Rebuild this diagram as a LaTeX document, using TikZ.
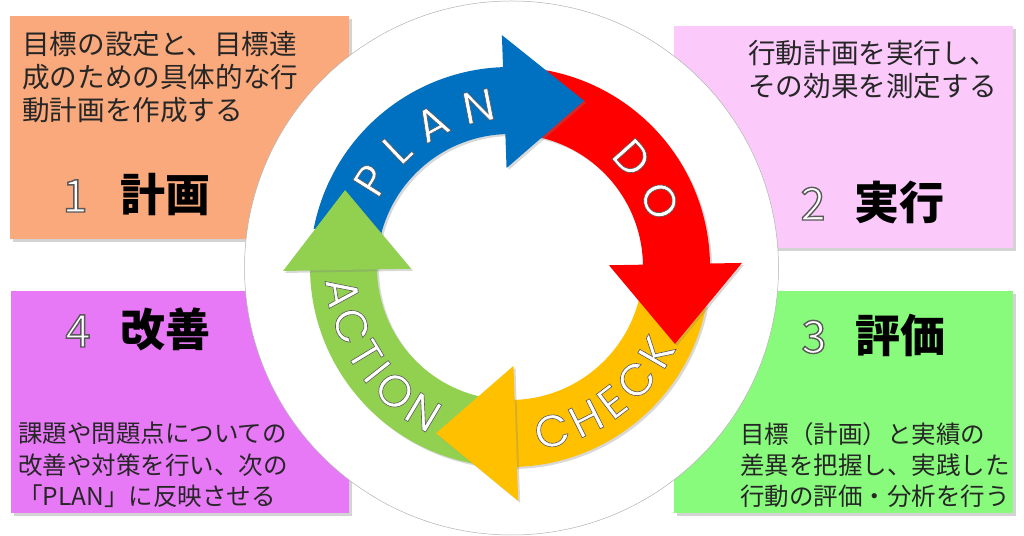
\documentclass[tikz,border=0pt]{standalone}
\usepackage{fontspec}
\newfontfamily\jp{Noto Sans CJK JP}
\newfontfamily\ringfont{Poppins}
\usetikzlibrary{shadows,decorations.text}

\definecolor{planblue}{HTML}{0070C0}
\definecolor{dored}{HTML}{FF0000}
\definecolor{checkyellow}{HTML}{FFC000}
\definecolor{actgreen}{HTML}{92D050}
\definecolor{boxorange}{HTML}{F9A97B}
\definecolor{boxpink}{HTML}{FBCAFB}
\definecolor{boxgreen}{HTML}{88FB7C}
\definecolor{boxviolet}{HTML}{E779F7}

% contorno grigio delle lettere bianche
\newcommand{\contorno}[1]{\special{pdf:literal direct 2 Tr #1 w 0.35 G}}

\begin{document}
\begin{tikzpicture}[x=1pt,y=1pt,
    boxshadow/.style={drop shadow={opacity=0.35,shadow xshift=3pt,shadow yshift=-3pt}},
    arrshadow/.style={drop shadow={opacity=0.3,shadow xshift=2pt,shadow yshift=-2pt}},
    bodytext/.style={anchor=north west,inner sep=0pt,align=left,text=black!85},
    numtext/.style={anchor=base,inner sep=0pt,text=white,font=\jp\fontsize{45}{45}\selectfont},
    headtext/.style={anchor=base,inner sep=0pt,font=\jp\bfseries\fontsize{45}{45}\selectfont}]
    \useasboundingbox (0,0) rectangle (1024,535);

    % Riquadri colorati
    \fill[boxorange,boxshadow] (10,296) rectangle (349,519);
    \fill[boxpink,boxshadow] (674,287) rectangle (1013,509);
    \fill[boxgreen,boxshadow] (674,22) rectangle (1013,244);
    \fill[boxviolet,boxshadow] (11,22) rectangle (349,244);

    % Cerchio bianco
    \filldraw[fill=white,draw=gray!60,line width=0.5pt] (511.5,267) circle (267);

    % Frecce del ciclo: prima i corpi, poi le punte
    \begin{scope}[shift={(510,268)}]
        \foreach \s/\b/\c in {169/92/planblue, 80/1/dored, -11/-88/checkyellow, 260/181/actgreen}{
            \pgfmathsetmacro\e{\b-1}
            \fill[\c,arrshadow] (\s:133) arc[start angle=\s,end angle=\e,radius=133]
                -- (\e:200) arc[start angle=\e,end angle=\s,radius=200] -- cycle;
        }
        \foreach \b/\c/\o in {92/planblue/232, 1/dored/232, -88/checkyellow/234, 181/actgreen/227}{
            \pgfmathsetmacro\t{\b-26}
            \fill[\c,arrshadow] (\b:99) -- (\b:\o) -- (\t:182) -- cycle;
        }

        % Scritte sulle frecce
        \foreach \w/\a/\z/\r in {PLAN/153/95/148, DO/48/17/148, CHECK/-81/-26/185, ACTION/184/244/185}{
            \path[decorate,decoration={text along path,text color=white,text align=fit to path,
                text={|\ringfont\fontsize{45}{45}\selectfont\contorno{0.6}|\w}}]
                (\a:\r) arc[start angle=\a,end angle=\z,radius=\r];
        }
    \end{scope}

    % Testi dei riquadri
    \node[bodytext,font=\jp\fontsize{27.6}{33.3}\selectfont] (t1) at (22,504)
        {目標の設定と、目標達\\成のための具体的な行\\動計画を作成する};
    \node[bodytext,font=\jp\fontsize{27.6}{33.3}\selectfont] (t2) at (748,495)
        {行動計画を実行し、\\その効果を測定する};
    \node[bodytext,font=\jp\fontsize{24.5}{31.3}\selectfont] (t3) at (740,113)
        {目標（計画）と実績の\\差異を把握し、実践した\\行動の評価・分析を行う};
    \node[bodytext,font=\jp\fontsize{24.5}{31.3}\selectfont] (t4) at (18,113)
        {課題や問題点についての\\改善や対策を行い、次の\\「PLAN」に反映させる};

    % Titoli con numero
    \foreach \n/\nx/\hx/\y/\h in {1/75/165/323/計画, 2/813/899.5/315/実行, 3/814/900/182/評価, 4/78/165/188/改善}{
        \node[numtext] (n\n) at (\nx,\y) {\contorno{1.4}\n};
        \node[headtext] (h\n) at (\hx,\y) {\h};
    }
\end{tikzpicture}
\end{document}
